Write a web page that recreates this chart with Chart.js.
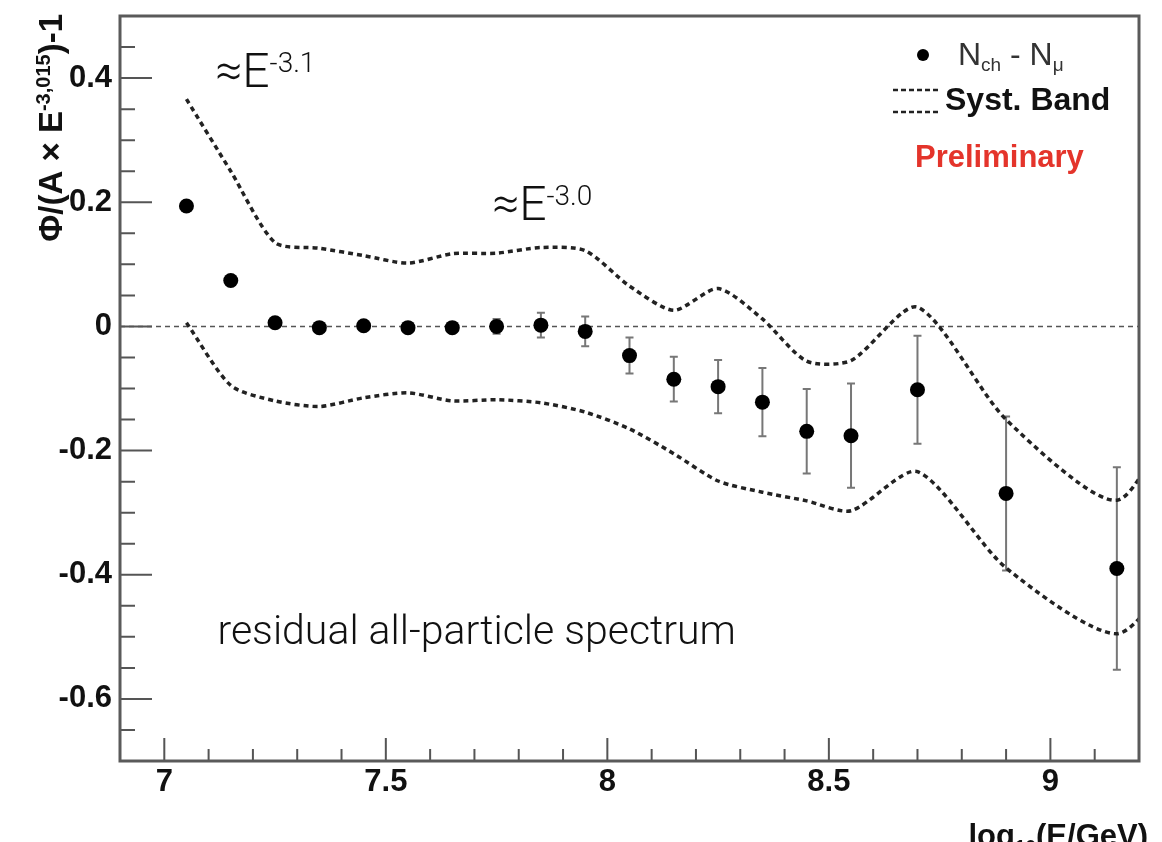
<!DOCTYPE html>
<html>
<head>
<meta charset="utf-8">
<script src="https://cdn.jsdelivr.net/npm/chart.js@4.4.1/dist/chart.umd.min.js"></script>
<style>
  html, body { margin: 0; padding: 0; background: #fff; }
  canvas { display: block; }
</style>
</head>
<body>
<canvas id="chart" width="1162" height="842"></canvas>
<script>
// Data
const energy = [7.05, 7.15, 7.25, 7.35, 7.45, 7.55, 7.65, 7.75, 7.85, 7.95,
  8.05, 8.15, 8.25, 8.35, 8.45, 8.55, 8.7, 8.9, 9.15];
const residual = [0.194, 0.074, 0.006, -0.002, 0.001, -0.002, -0.002, 0.0, 0.002, -0.008,
  -0.047, -0.085, -0.097, -0.122, -0.169, -0.176, -0.102, -0.269, -0.39];
const residualErr = [0.004, 0.004, 0.004, 0.005, 0.006, 0.007, 0.008, 0.012, 0.02, 0.024,
  0.029, 0.036, 0.043, 0.055, 0.068, 0.084, 0.087, 0.124, 0.163];

// systematic band
const bandX = [7.05, 7.15, 7.25, 7.35, 7.45, 7.55, 7.65, 7.75, 7.85, 7.95,
  8.05, 8.15, 8.25, 8.35, 8.45, 8.55, 8.7, 8.9, 9.15, 9.3];
const bandUpper = [0.366, 0.25, 0.135, 0.126, 0.114, 0.102, 0.117, 0.118, 0.127, 0.122,
  0.065, 0.026, 0.061, 0.012, -0.056, -0.055, 0.031, -0.15, -0.28, -0.11];
const bandLower = [0.006, -0.095, -0.12, -0.129, -0.115, -0.107, -0.12, -0.118, -0.123, -0.138,
  -0.165, -0.205, -0.249, -0.267, -0.281, -0.297, -0.234, -0.389, -0.495, -0.38];

// axes
const xTicks = [7, 7.5, 8, 8.5, 9];
const xTickLabels = ['7', '7.5', '8', '8.5', '9'];
const yTicks = [-0.6, -0.4, -0.2, 0, 0.2, 0.4];
const yTickLabels = ['-0.6', '-0.4', '-0.2', '0', '0.2', '0.4'];

const toXY = (xs, ys) => xs.map((x, i) => ({ x: x, y: ys[i] }));

const bold = (px) => 'bold ' + px + 'px "Liberation Sans", Arial, sans-serif';
const light = (px) => '300 ' + px + 'px Roboto, "Liberation Sans", sans-serif';

// draw a run of [text, font, dy] pieces left to right
function drawPieces(ctx, x, y, pieces) {
  let cx = x;
  pieces.forEach(([txt, font, dy]) => {
    ctx.font = font;
    ctx.fillText(txt, cx, y + (dy || 0));
    cx += ctx.measureText(txt).width;
  });
  return cx;
}

const decor = {
  id: 'decor',
  beforeDatasetsDraw(chart) {
    const { ctx, chartArea: a, scales } = chart;
    const xs = scales.x, ys = scales.y;
    ctx.save();
    // zero line
    ctx.strokeStyle = '#555';
    ctx.lineWidth = 1.5;
    ctx.setLineDash([5, 4]);
    ctx.beginPath();
    ctx.moveTo(a.left, ys.getPixelForValue(0));
    ctx.lineTo(a.right, ys.getPixelForValue(0));
    ctx.stroke();
    ctx.setLineDash([]);
    // error bars
    ctx.strokeStyle = '#777';
    ctx.lineWidth = 2;
    energy.forEach((e, i) => {
      const px = xs.getPixelForValue(e);
      const top = ys.getPixelForValue(residual[i] + residualErr[i]);
      const bot = ys.getPixelForValue(residual[i] - residualErr[i]);
      ctx.beginPath();
      ctx.moveTo(px, top); ctx.lineTo(px, bot);
      ctx.moveTo(px - 4, top); ctx.lineTo(px + 4, top);
      ctx.moveTo(px - 4, bot); ctx.lineTo(px + 4, bot);
      ctx.stroke();
    });
    ctx.restore();
  },
  afterDatasetsDraw(chart) {
    const { ctx, chartArea: a, scales } = chart;
    const xs = scales.x, ys = scales.y;
    ctx.save();

    // inward ticks, ROOT style
    ctx.strokeStyle = '#555';
    ctx.lineWidth = 2;
    ctx.beginPath();
    for (let k = 0; k <= 23; k++) {
      const v = Math.round((6.9 + k * 0.1) * 10) / 10;
      const px = xs.getPixelForValue(v);
      const major = Math.abs(v * 2 - Math.round(v * 2)) < 1e-6;
      ctx.moveTo(px, a.bottom);
      ctx.lineTo(px, a.bottom - (major ? 23 : 12));
    }
    for (let k = 0; k <= 24; k++) {
      const v = Math.round((-0.7 + k * 0.05) * 100) / 100;
      const py = ys.getPixelForValue(v);
      const major = Math.abs(v * 5 - Math.round(v * 5)) < 1e-6;
      ctx.moveTo(a.left, py);
      ctx.lineTo(a.left + (major ? 32 : 15), py);
    }
    ctx.stroke();

    // frame
    ctx.strokeStyle = '#5a5a5a';
    ctx.lineWidth = 3;
    ctx.strokeRect(a.left, a.top, a.right - a.left, a.bottom - a.top);

    // annotations
    ctx.fillStyle = '#111';
    ctx.textBaseline = 'alphabetic';
    ctx.textAlign = 'left';
    drawPieces(ctx, xs.getPixelForValue(7.115), ys.getPixelForValue(0.385),
      [['\u2248E', light(48)], ['-3.1', light(28), -15]]);
    drawPieces(ctx, xs.getPixelForValue(7.74), ys.getPixelForValue(0.171),
      [['\u2248E', light(48)], ['-3.0', light(28), -15]]);
    ctx.font = light(41);
    ctx.fillText('residual all-particle spectrum', xs.getPixelForValue(7.12), ys.getPixelForValue(-0.511));

    // legend
    ctx.fillStyle = '#000';
    ctx.beginPath();
    ctx.arc(923, 55, 6, 0, Math.PI * 2);
    ctx.fill();
    ctx.fillStyle = '#333';
    drawPieces(ctx, 958, 65, [['N', '32px "Liberation Sans", Arial, sans-serif'],
      ['ch', '19px "Liberation Sans", Arial, sans-serif', 6],
      [' - N', '32px "Liberation Sans", Arial, sans-serif'],
      ['\u03bc', '19px "Liberation Sans", Arial, sans-serif', 6]]);
    ctx.strokeStyle = '#222';
    ctx.lineWidth = 2.5;
    ctx.setLineDash([5, 3]);
    ctx.beginPath();
    ctx.moveTo(893, 90); ctx.lineTo(940, 90);
    ctx.moveTo(893, 112); ctx.lineTo(940, 112);
    ctx.stroke();
    ctx.setLineDash([]);
    ctx.fillStyle = '#111';
    ctx.font = bold(32);
    ctx.fillText('Syst. Band', 945, 110);
    ctx.fillStyle = '#e4342b';
    ctx.font = bold(31);
    ctx.fillText('Preliminary', 915, 167);

    // x title at the right end of the axis
    ctx.fillStyle = '#111';
    const xParts = [['log', bold(31)], ['10', bold(19), 7], ['(E/GeV)', bold(31)]];
    let w = 0;
    xParts.forEach(([t, f]) => { ctx.font = f; w += ctx.measureText(t).width; });
    drawPieces(ctx, 1148 - w, 846, xParts);

    // y title, rotated, ending at the top
    const yParts = [['\u03a6/(A \u00d7 E', bold(33)], ['-3,015', bold(20), -12], [')-1', bold(33)]];
    w = 0;
    yParts.forEach(([t, f]) => { ctx.font = f; w += ctx.measureText(t).width; });
    ctx.translate(62, 14);
    ctx.rotate(-Math.PI / 2);
    drawPieces(ctx, -w, 0, yParts);

    ctx.restore();
  }
};

new Chart(document.getElementById('chart'), {
  type: 'scatter',
  data: {
    datasets: [
      {
        label: 'Nch - Nmu',
        data: toXY(energy, residual),
        pointRadius: 7.5,
        pointHoverRadius: 7.5,
        pointBackgroundColor: '#000',
        pointBorderWidth: 0,
        showLine: false,
      },
      {
        label: 'Syst. Band upper',
        data: toXY(bandX, bandUpper),
        showLine: true,
        pointRadius: 0,
        borderColor: '#222',
        borderWidth: 3.5,
        borderDash: [5, 4],
        tension: 0.25,
      },
      {
        label: 'Syst. Band lower',
        data: toXY(bandX, bandLower),
        showLine: true,
        pointRadius: 0,
        borderColor: '#222',
        borderWidth: 3.5,
        borderDash: [5, 4],
        tension: 0.25,
      },
    ],
  },
  options: {
    responsive: false,
    animation: false,
    devicePixelRatio: 1,
    layout: { padding: { left: 0, top: 16, right: 23, bottom: 0 } },
    plugins: { legend: { display: false }, tooltip: { enabled: false } },
    scales: {
      x: {
        type: 'linear',
        min: 6.9,
        max: 9.2,
        grid: { display: false, drawTicks: false },
        border: { display: false },
        afterBuildTicks: (scale) => { scale.ticks = xTicks.map((v) => ({ value: v })); },
        afterFit: (scale) => {
          scale.height = 81;
          scale.paddingLeft = 0;
          scale.paddingRight = 0;
        },
        ticks: {
          autoSkip: false,
          maxRotation: 0,
          padding: 3,
          color: '#111',
          font: { family: '"Liberation Sans", Arial, sans-serif', size: 31, weight: 'bold' },
          callback: (value, i) => xTickLabels[i],
        },
      },
      y: {
        type: 'linear',
        min: -0.7,
        max: 0.5,
        grid: { display: false, drawTicks: false },
        border: { display: false },
        afterBuildTicks: (scale) => { scale.ticks = yTicks.map((v) => ({ value: v })); },
        afterFit: (scale) => {
          scale.width = 120;
          scale.paddingTop = 0;
          scale.paddingBottom = 0;
        },
        ticks: {
          autoSkip: false,
          padding: 8,
          color: '#111',
          font: { family: '"Liberation Sans", Arial, sans-serif', size: 31, weight: 'bold' },
          callback: (value, i) => yTickLabels[i],
        },
      },
    },
  },
  plugins: [decor],
});
</script>
</body>
</html>
